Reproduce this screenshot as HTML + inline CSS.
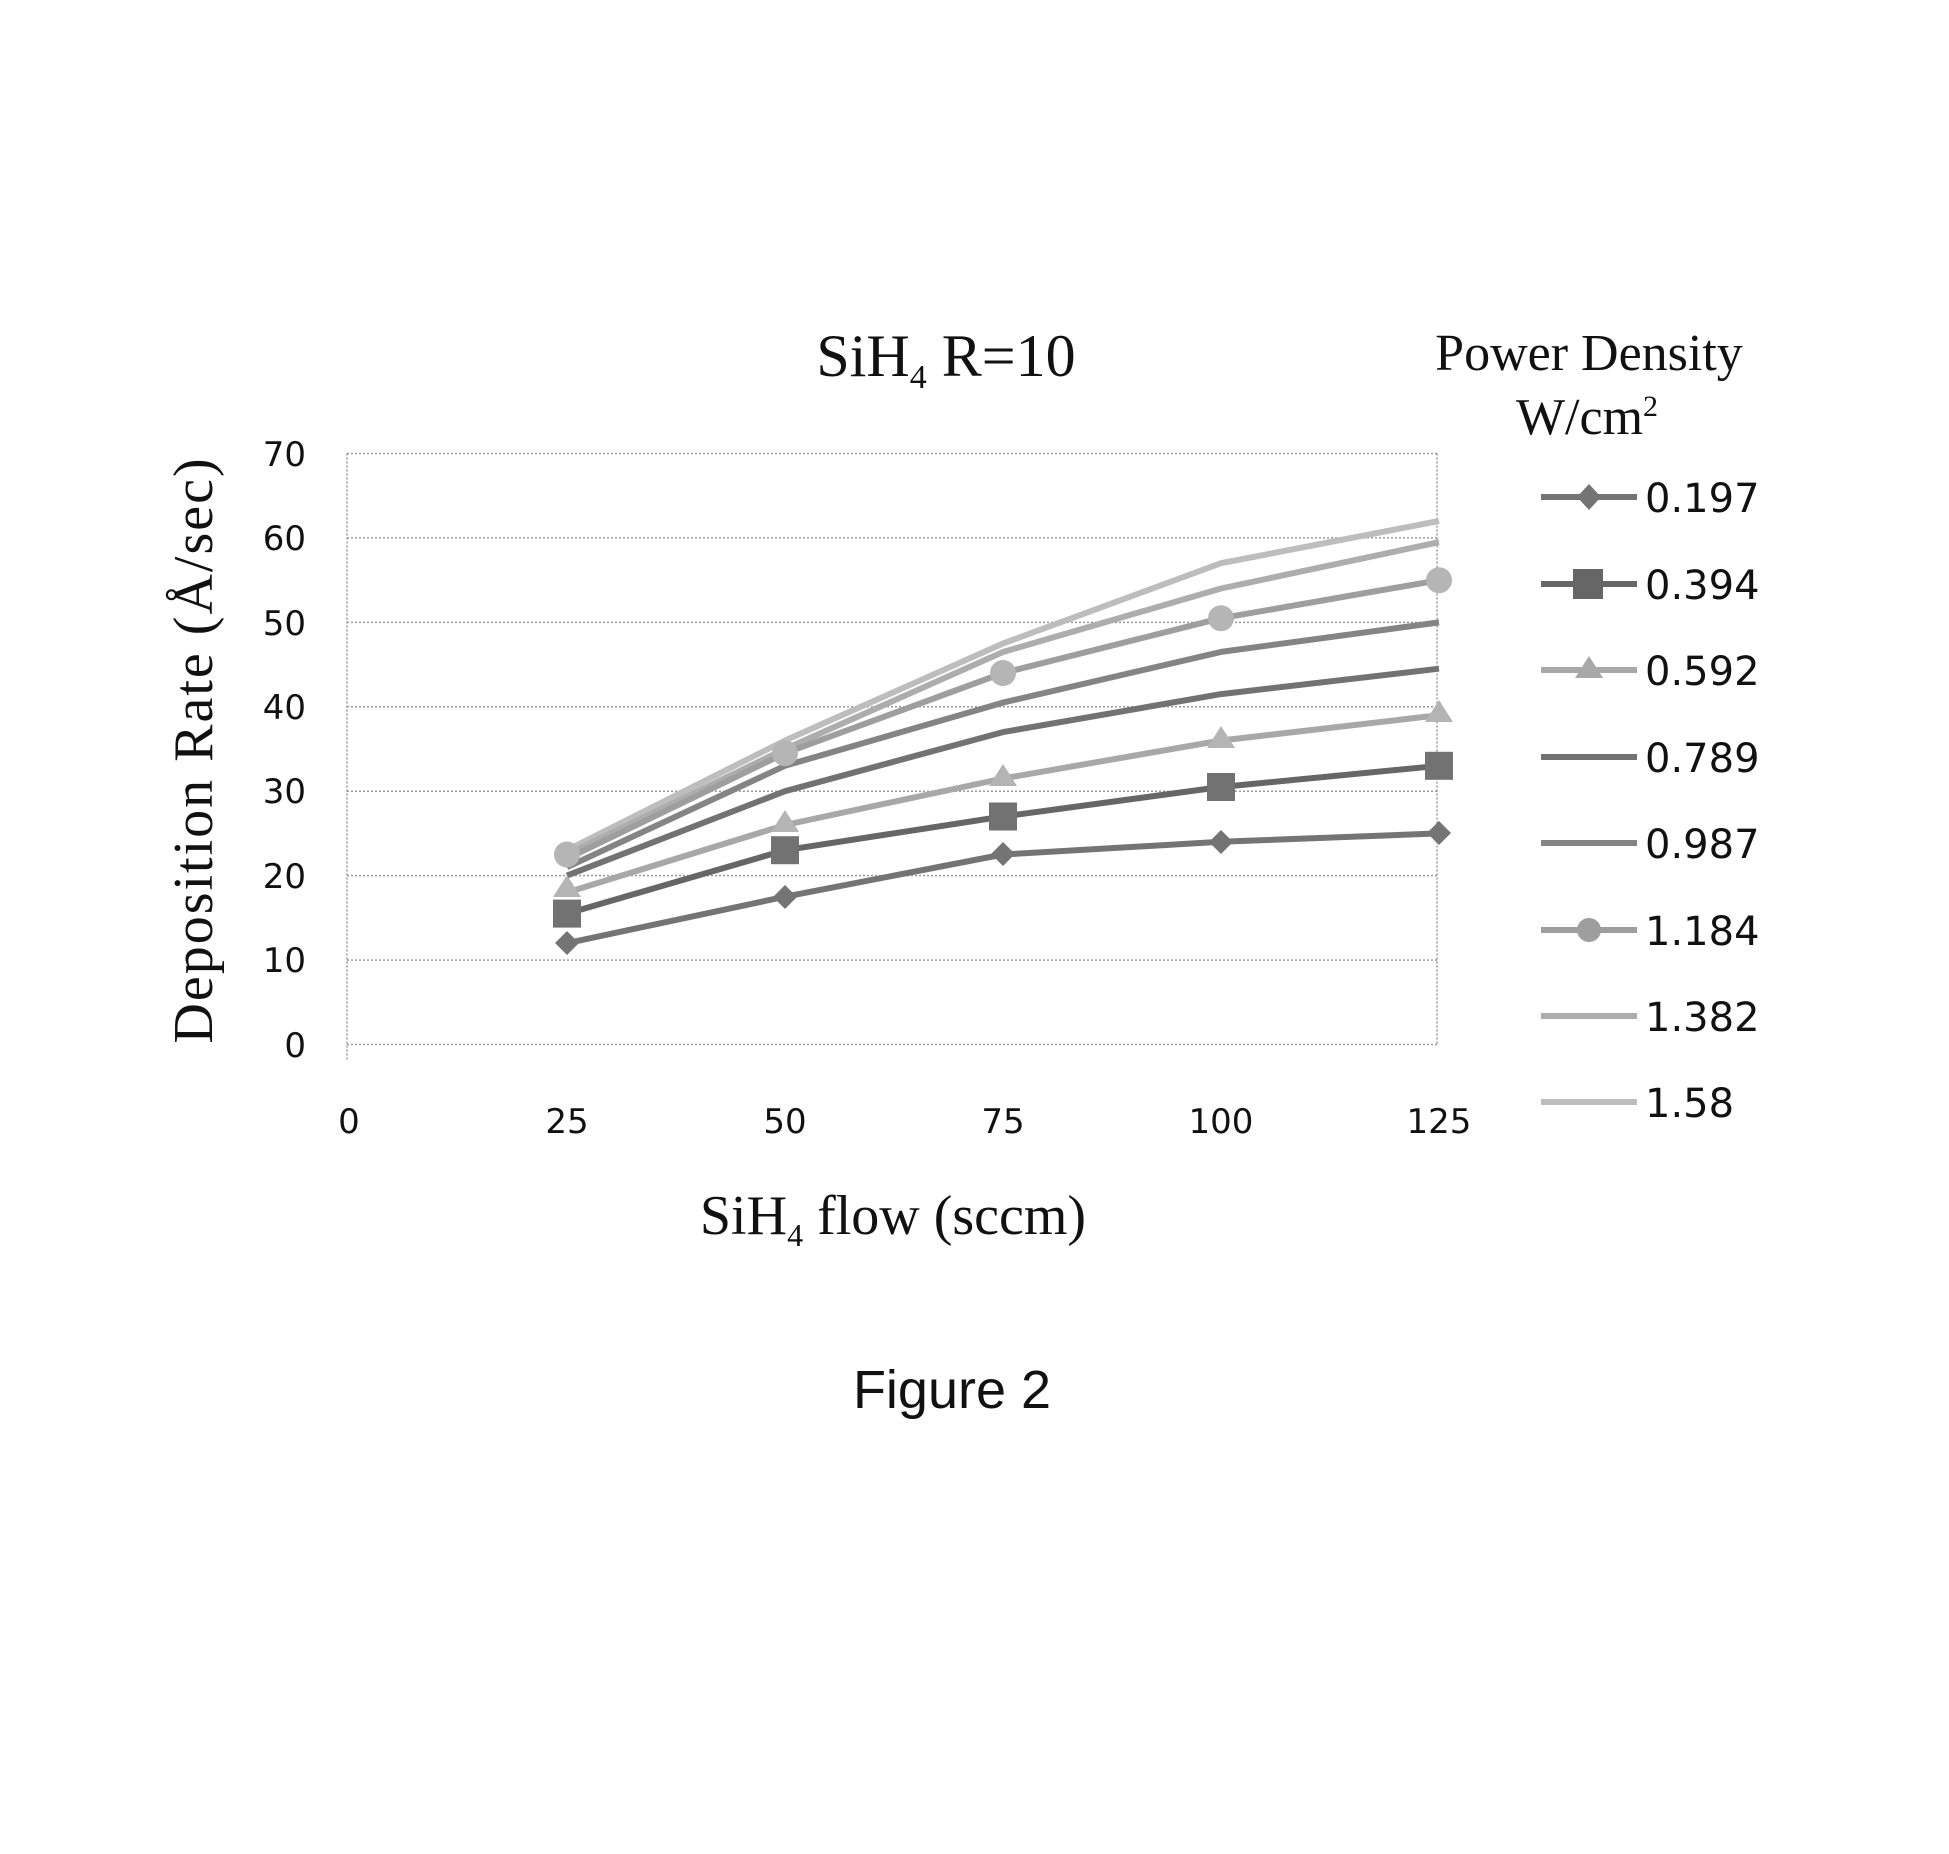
<!DOCTYPE html>
<html><head><meta charset="utf-8"><style>
html,body{margin:0;padding:0;background:#fff;}
svg{display:block;}
.t{font-family:"DejaVu Sans","Liberation Sans",sans-serif;fill:#111;}
.s{font-family:"Liberation Serif",serif;fill:#111;}
</style></head><body>
<svg width="1949" height="1854" viewBox="0 0 1949 1854" xmlns="http://www.w3.org/2000/svg">
<rect width="1949" height="1854" fill="#fff"/>
<g stroke="#999" stroke-width="1.5" stroke-dasharray="2,2">
<line x1="347" y1="453.5" x2="1437" y2="453.5"/>
<line x1="347" y1="537.9" x2="1437" y2="537.9"/>
<line x1="347" y1="622.4" x2="1437" y2="622.4"/>
<line x1="347" y1="706.8" x2="1437" y2="706.8"/>
<line x1="347" y1="791.2" x2="1437" y2="791.2"/>
<line x1="347" y1="875.6" x2="1437" y2="875.6"/>
<line x1="347" y1="960.1" x2="1437" y2="960.1"/>
<line x1="347" y1="1044.5" x2="1437" y2="1044.5"/>
<line x1="347" y1="453.5" x2="347" y2="1060"/>
<line x1="1437" y1="453.5" x2="1437" y2="1044.5"/>
</g>
<g class="t" font-size="34" text-anchor="end">
<text x="306" y="466">70</text><text x="306" y="550">60</text><text x="306" y="635">50</text>
<text x="306" y="719">40</text><text x="306" y="803">30</text><text x="306" y="888">20</text>
<text x="306" y="972">10</text><text x="306" y="1057">0</text>
</g>
<g class="t" font-size="34" text-anchor="middle">
<text x="349" y="1133">0</text><text x="567" y="1133">25</text><text x="785" y="1133">50</text>
<text x="1003" y="1133">75</text><text x="1221" y="1133">100</text><text x="1439" y="1133">125</text>
</g>
<text class="s" x="946" y="376" font-size="60" text-anchor="middle">SiH<tspan font-size="34" dy="12">4</tspan><tspan dy="-12"> R=10</tspan></text>
<text class="s" x="893" y="1234" font-size="56" text-anchor="middle">SiH<tspan font-size="32" dy="12">4</tspan><tspan dy="-12"> flow (sccm)</tspan></text>
<text class="s" font-size="56" letter-spacing="2" text-anchor="middle" transform="translate(212,750) rotate(-90)">Deposition  Rate (Å/sec)</text>
<text class="s" x="1589" y="370" font-size="52" text-anchor="middle">Power Density</text>
<text class="s" x="1587" y="434" font-size="52" text-anchor="middle">W/cm<tspan font-size="30" dy="-18">2</tspan></text>
<text x="952" y="1408" font-family="Liberation Sans,sans-serif" font-size="54" text-anchor="middle" fill="#111">Figure 2</text>
<g fill="none" stroke-width="6" stroke-linejoin="round">
<polyline stroke="#bdbdbd" points="567,850.2 785,740.5 1003,643.5 1221,563.2 1439,521.0"/>
<polyline stroke="#adadad" points="567,854.5 785,749.0 1003,652.0 1221,588.5 1439,542.2"/>
<polyline stroke="#9e9e9e" points="567,858.7 785,753.2 1003,673.0 1221,618.2 1439,580.2"/>
<polyline stroke="#848484" points="567,867.2 785,765.8 1003,702.6 1221,651.9 1439,622.4"/>
<polyline stroke="#727272" points="567,875.6 785,791.2 1003,732.1 1221,694.1 1439,668.7"/>
<polyline stroke="#a8a8a8" points="567,892.5 785,825.0 1003,778.5 1221,740.5 1439,715.2"/>
<polyline stroke="#666" points="567,913.6 785,850.2 1003,816.5 1221,787.0 1439,765.8"/>
<polyline stroke="#747474" points="567,943.2 785,896.7 1003,854.5 1221,841.8 1439,833.4"/>
</g>
<g fill="#b5b5b5"><circle cx="567" cy="854.5" r="13"/><circle cx="785" cy="753.2" r="13"/><circle cx="1003" cy="673" r="13"/><circle cx="1221" cy="618.2" r="13"/><circle cx="1439" cy="580.2" r="13"/></g>
<g fill="#b4b4b4"><path d="M567,875l14,22h-28z"/><path d="M785,810l14,22h-28z"/><path d="M1003,764l14,22h-28z"/><path d="M1221,726l14,22h-28z"/><path d="M1439,700l14,22h-28z"/></g>
<g fill="#727272"><rect x="553" y="899.6" width="28" height="28"/><rect x="771" y="836.2" width="28" height="28"/><rect x="989" y="802.5" width="28" height="28"/><rect x="1207" y="773" width="28" height="28"/><rect x="1425" y="751.8" width="28" height="28"/></g>
<g fill="#747474"><path d="M567,931l12,12-12,12-12-12z"/><path d="M785,885l12,12-12,12-12-12z"/><path d="M1003,842l12,12-12,12-12-12z"/><path d="M1221,830l12,12-12,12-12-12z"/><path d="M1439,821l12,12-12,12-12-12z"/></g>
<g stroke-width="6">
<line x1="1541" y1="497" x2="1637" y2="497" stroke="#747474"/><path d="M1589,484l12,13-12,13-12-13z" fill="#747474"/>
<line x1="1541" y1="584" x2="1637" y2="584" stroke="#666"/><rect x="1573" y="569" width="30" height="30" fill="#666"/>
<line x1="1541" y1="670" x2="1637" y2="670" stroke="#a8a8a8"/><path d="M1589,656l14,22h-28z" fill="#a8a8a8"/>
<line x1="1541" y1="757" x2="1637" y2="757" stroke="#727272"/>
<line x1="1541" y1="843" x2="1637" y2="843" stroke="#848484"/>
<line x1="1541" y1="930" x2="1637" y2="930" stroke="#9e9e9e"/><circle cx="1589" cy="930" r="12" fill="#9e9e9e"/>
<line x1="1541" y1="1016" x2="1637" y2="1016" stroke="#adadad"/>
<line x1="1541" y1="1102" x2="1637" y2="1102" stroke="#bdbdbd"/>
</g>
<g class="t" font-size="40">
<text x="1645" y="512">0.197</text><text x="1645" y="599">0.394</text><text x="1645" y="685">0.592</text>
<text x="1645" y="772">0.789</text><text x="1645" y="858">0.987</text><text x="1645" y="945">1.184</text>
<text x="1645" y="1031">1.382</text><text x="1645" y="1117">1.58</text>
</g>
</svg>
</body></html>
